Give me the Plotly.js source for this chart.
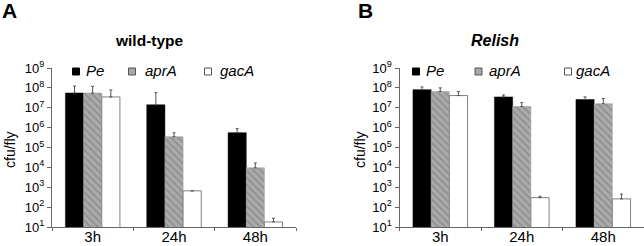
<!DOCTYPE html>
<html>
<head>
<meta charset="utf-8">
<script src="https://cdn.plot.ly/plotly-3.0.1.min.js"></script>
<style>html,body{margin:0;padding:0;background:#fff;}#chart{width:644px;height:246px;}</style>
</head>
<body>
<div id="chart"></div>
<script>
// ---- data ----
const categories = ['3h', '24h', '48h'];
const seriesNames = ['Pe', 'aprA', 'gacA'];
const panelTitles = ['wild-type', 'Relish'];
const panelLetters = ['A', 'B'];
const yTickValues = [1e1, 1e2, 1e3, 1e4, 1e5, 1e6, 1e7, 1e8, 1e9];
const yTickLabels = ['10<sup>1</sup>','10<sup>2</sup>','10<sup>3</sup>','10<sup>4</sup>','10<sup>5</sup>','10<sup>6</sup>','10<sup>7</sup>','10<sup>8</sup>','10<sup>9</sup>'];

// wild-type (cfu/fly) and top of error bar
const wtPe = [5.5e7, 1.4e7, 5.6e5];
const wtPeTop = [1.23e8, 5.7e7, 8.9e5];
const wtAprA = [5.5e7, 3.5e5, 9.5e3];
const wtAprATop = [1.2e8, 5.5e5, 1.66e4];
const wtGacA = [3.5e7, 660, 18];
const wtGacATop = [7.8e7, null, 27.5];

// Relish
const relPe = [8.1e7, 3.5e7, 2.6e7];
const relPeTop = [1.11e8, 4.4e7, 3.5e7];
const relAprA = [6.6e7, 1.15e7, 1.6e7];
const relAprATop = [1.0e8, 1.8e7, 2.9e7];
const relGacA = [4.1e7, 300, 260];
const relGacATop = [6.5e7, 355, 450];

// ---- styling / layout ----
const W = 644, H = 246;
const px = x => x / W;
const py = y => 1 - y / H;
const FONT = 'Liberation Sans, Arial, sans-serif';

const styles = [
  {color: '#000000', line: {color: '#000000', width: 0.5}},
  {color: '#a8a8a8', line: {color: '#9a9a9a', width: 0.5},
   pattern: {shape: '\\', bgcolor: '#ababab', fgcolor: '#909090', size: 5, solidity: 0.35}},
  {color: '#ffffff', line: {color: '#808080', width: 1}}
];

function errPlus(vals, tops) {
  return vals.map((v, i) => (tops[i] == null ? null : tops[i] - v));
}

const panels = [
  {vals: [wtPe, wtAprA, wtGacA], tops: [wtPeTop, wtAprATop, wtGacATop], xa: 'x', ya: 'y'},
  {vals: [relPe, relAprA, relGacA], tops: [relPeTop, relAprATop, relGacATop], xa: 'x2', ya: 'y2'}
];

const traces = [];
panels.forEach(p => {
  seriesNames.forEach((name, i) => {
    const m = {color: styles[i].color, line: styles[i].line};
    if (styles[i].pattern) m.pattern = styles[i].pattern;
    traces.push({
      type: 'bar', name: name, x: categories, y: p.vals[i],
      xaxis: p.xa, yaxis: p.ya, marker: m, showlegend: false,
      error_y: {type: 'data', symmetric: false, array: errPlus(p.vals[i], p.tops[i]),
                arrayminus: p.vals[i].map(() => 0), color: '#555555', thickness: 1, width: 1.5}
    });
  });
});

const yDomain = [1 - 227 / H, 1 - 68 / H];
function xAxis(domain) {
  return {domain: domain, type: 'category', range: [-0.5, 2.5], showline: true, linecolor: '#666666',
          linewidth: 1, ticks: 'outside', ticklen: 3, tickcolor: '#666666', tickson: 'boundaries',
          showgrid: false, zeroline: false, automargin: false, ticklabelstandoff: -4,
          tickfont: {family: FONT, size: 15, color: '#000'}};
}
function yAxis(anchor) {
  return {domain: yDomain, anchor: anchor, type: 'log', range: [1, 9], tickvals: yTickValues,
          ticktext: yTickLabels, showline: true, linecolor: '#666666', linewidth: 1,
          ticks: 'outside', ticklen: 4, tickcolor: '#666666', showgrid: false, zeroline: false,
          automargin: false, tickfont: {family: FONT, size: 13, color: '#000'}};
}

// legend positions (px)
const legendPos = [
  [{sx: 72.5, tx: 84}, {sx: 128.5, tx: 143}, {sx: 204.5, tx: 218}],
  [{sx: 412.5, tx: 424}, {sx: 475, tx: 487}, {sx: 564.5, tx: 574}]
];
const shapes = [];
const annotations = [];
legendPos.forEach(items => {
  items.forEach((it, i) => {
    shapes.push({type: 'rect', xref: 'paper', yref: 'paper',
      x0: px(it.sx), x1: px(it.sx + 7), y0: py(75), y1: py(68),
      fillcolor: styles[i].color, line: {color: i === 0 ? '#000' : '#555', width: 1}});
    annotations.push({xref: 'paper', yref: 'paper', x: px(it.tx), y: py(70.5),
      xanchor: 'left', yanchor: 'middle', showarrow: false, text: '<i>' + seriesNames[i] + '</i>',
      font: {family: FONT, size: 15, color: '#000'}});
  });
});

// titles
annotations.push({xref: 'paper', yref: 'paper', x: px(149), y: py(40), xanchor: 'center', yanchor: 'middle',
  showarrow: false, text: '<b>' + panelTitles[0] + '</b>', font: {family: FONT, size: 15.5, color: '#000'}});
annotations.push({xref: 'paper', yref: 'paper', x: px(494.5), y: py(40.5), xanchor: 'center', yanchor: 'middle',
  showarrow: false, text: '<b><i>' + panelTitles[1] + '</i></b>', font: {family: FONT, size: 16, color: '#000'}});
// panel letters
annotations.push({xref: 'paper', yref: 'paper', x: px(9.5), y: py(10.5), xanchor: 'center', yanchor: 'middle',
  showarrow: false, text: '<b>' + panelLetters[0] + '</b>', font: {family: FONT, size: 21, color: '#000'}});
annotations.push({xref: 'paper', yref: 'paper', x: px(365.5), y: py(10.5), xanchor: 'center', yanchor: 'middle',
  showarrow: false, text: '<b>' + panelLetters[1] + '</b>', font: {family: FONT, size: 21, color: '#000'}});
// y titles
[[10, 150], [360, 149]].forEach(([x, y]) => {
  annotations.push({xref: 'paper', yref: 'paper', x: px(x), y: py(y), xanchor: 'center', yanchor: 'middle',
    showarrow: false, textangle: -90, text: 'cfu/fly', font: {family: FONT, size: 14, color: '#000'}});
});

const layout = {
  width: W, height: H, margin: {l: 0, r: 0, t: 0, b: 0},
  paper_bgcolor: '#fff', plot_bgcolor: '#fff',
  barmode: 'group', bargap: 0.33, bargroupgap: 0,
  showlegend: false,
  xaxis: xAxis([px(52), px(296)]),
  yaxis: yAxis('x'),
  xaxis2: xAxis([px(399.5), 1]),
  yaxis2: yAxis('x2'),
  shapes: shapes, annotations: annotations
};

Plotly.newPlot('chart', traces, layout, {staticPlot: true, displayModeBar: false});
</script>
</body>
</html>
